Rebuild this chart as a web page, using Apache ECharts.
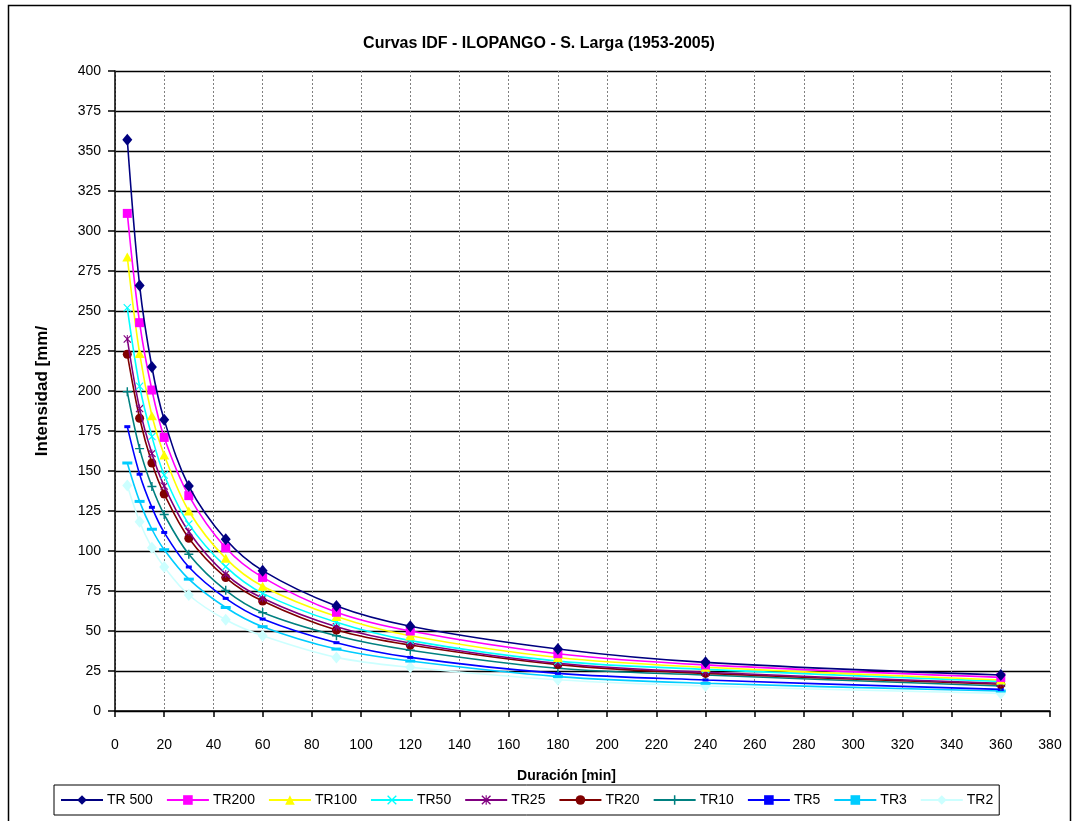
<!DOCTYPE html>
<html>
<head>
<meta charset="utf-8">
<script src="https://cdn.jsdelivr.net/npm/echarts@6/dist/echarts.min.js"></script>
<style>
  html, body { margin: 0; padding: 0; background: #fff; }
  #chart { width: 1078px; height: 821px; }
</style>
</head>
<body>
<div id="chart"></div>
<script>
// Storm durations [min]
const durations = [5, 10, 15, 20, 30, 45, 60, 90, 120, 180, 240, 360];

// Rainfall intensity [mm/h] for each return period
const tr500 = [357, 266, 215, 182, 140.6, 107.3, 87.7, 65.6, 53, 38.8, 30.4, 22.5];
const tr200 = [311, 242.7, 200.6, 171, 134.6, 102, 83.5, 61.7, 50, 35.8, 28.8, 21];
const tr100 = [283.7, 223.5, 184.5, 160, 125, 95.4, 78, 59, 47, 33.4, 27.3, 19.4];
const tr50 = [252, 203, 171.5, 147.5, 116.8, 90.2, 73.5, 55.4, 44, 31.2, 26, 18.5];
const tr25 = [232.5, 189, 161, 140.6, 112, 85.6, 70.5, 52.7, 42.5, 29.8, 24.2, 17.3];
const tr20 = [223, 183, 155, 135.6, 108, 83.4, 68.7, 50.6, 41.2, 29, 23.5, 16.7];
const tr10 = [199.5, 164, 140.3, 122.8, 98, 75.4, 61.5, 47, 38, 26.7, 22.5, 15.6];
const tr5 = [177.7, 148, 127.3, 111.6, 90, 70.4, 57.5, 42.7, 33.5, 23.5, 19.4, 13.5];
const tr3 = [155, 131, 113.6, 100.8, 82.4, 64.7, 52.7, 38.7, 31.2, 21.5, 17.3, 12.5];
const tr2 = [141, 118.3, 102, 90, 72.5, 57, 47, 33.5, 27.3, 19.5, 15.6, 11];

const seriesNames = ['TR 500', 'TR200', 'TR100', 'TR50', 'TR25', 'TR20', 'TR10', 'TR5', 'TR3', 'TR2'];
const seriesValues = [tr500, tr200, tr100, tr50, tr25, tr20, tr10, tr5, tr3, tr2];

// Marker shapes
const CROSS_X = 'path://M0,1 L1,0 L5,4 L9,0 L10,1 L6,5 L10,9 L9,10 L5,6 L1,10 L0,9 L4,5 Z';
const PLUS = 'path://M4.2,0 H5.8 V4.2 H10 V5.8 H5.8 V10 H4.2 V5.8 H0 V4.2 H4.2 Z';
const STAR = 'path://M0,1 L1,0 L5,4 L9,0 L10,1 L6,5 L10,9 L9,10 L5,6 L1,10 L0,9 L4,5 Z M4.4,0 H5.6 V10 H4.4 Z';

const styles = [
  { color: '#000080', symbol: 'diamond', size: [10, 12] },
  { color: '#FF00FF', symbol: 'rect', size: [9, 9] },
  { color: '#FFFF00', symbol: 'triangle', size: [10, 9] },
  { color: '#00FFFF', symbol: CROSS_X, size: [8, 8] },
  { color: '#800080', symbol: STAR, size: [8, 8] },
  { color: '#800000', symbol: 'circle', size: 9 },
  { color: '#008080', symbol: PLUS, size: [9, 9] },
  { color: '#0000FF', symbol: 'rect', size: [6, 3] },
  { color: '#00CCFF', symbol: 'rect', size: [10, 3] },
  { color: '#CCFFFF', symbol: 'diamond', size: [10, 12] }
];

const series = seriesNames.map((name, i) => ({
  name: name,
  type: 'line',
  data: durations.map((d, k) => [d, seriesValues[i][k]]),
  smooth: 0.35,
  symbol: styles[i].symbol,
  symbolSize: styles[i].size,
  showAllSymbol: true,
  lineStyle: { color: styles[i].color, width: 1.6 },
  itemStyle: { color: styles[i].color, borderWidth: 0 },
  emphasis: { disabled: true },
  z: 10 - i
}));

const FONT = 'Liberation Sans, Arial, sans-serif';

const chart = echarts.init(document.getElementById('chart'), null, { renderer: 'canvas' });
chart.setOption({
  animation: false,
  backgroundColor: '#ffffff',
  textStyle: { fontFamily: FONT },
  title: {
    text: 'Curvas IDF - ILOPANGO - S. Larga (1953-2005)',
    left: 'center',
    top: 31,
    textStyle: { fontSize: 16, fontWeight: 'bold', color: '#000', fontFamily: FONT }
  },
  grid: { left: 115, right: 28, top: 71, bottom: 110, containLabel: false },
  xAxis: {
    type: 'value',
    min: 0,
    max: 380,
    interval: 20,
    name: 'Duración [min]',
    nameLocation: 'middle',
    nameGap: 58,
    nameTextStyle: { fontSize: 14, fontWeight: 'bold', color: '#000', padding: [0, 32, 0, 0] },
    axisLine: { onZero: false, lineStyle: { color: '#000', width: 1.5 } },
    axisTick: { show: true, length: 6, inside: false, lineStyle: { color: '#000', width: 1.5 } },
    axisLabel: { fontSize: 14, color: '#000', margin: 27 },
    splitLine: { show: true, lineStyle: { color: '#808080', width: 1, type: [2, 2] } }
  },
  yAxis: {
    type: 'value',
    min: 0,
    max: 400,
    interval: 25,
    name: 'Intensidad [mm/',
    nameLocation: 'middle',
    nameGap: 64,
    nameTextStyle: { fontSize: 17, fontWeight: 'bold', color: '#000' },
    axisLine: { show: true, lineStyle: { color: '#000', width: 1.5 } },
    axisTick: { show: true, length: 7, inside: false, lineStyle: { color: '#000', width: 1.5 } },
    axisLabel: { fontSize: 14, color: '#000', margin: 14 },
    splitLine: { show: true, lineStyle: { color: '#000', width: 1.3 } }
  },
  legend: {
    data: seriesNames,
    left: 54,
    top: 785,
    orient: 'horizontal',
    itemWidth: 42,
    itemHeight: 12,
    itemGap: 13,
    padding: [8, 6, 8, 6],
    borderColor: '#000',
    borderWidth: 1,
    backgroundColor: '#fff',
    selectedMode: false,
    textStyle: { fontSize: 14, color: '#000', padding: [0, 0, 0, -1] }
  },
  graphic: [
    {
      type: 'rect',
      shape: { x: 8.5, y: 5.5, width: 1062, height: 820 },
      style: { fill: 'none', stroke: '#000', lineWidth: 1.5 },
      silent: true,
      z: -10
    }
  ],
  series: series
});
</script>
</body>
</html>
